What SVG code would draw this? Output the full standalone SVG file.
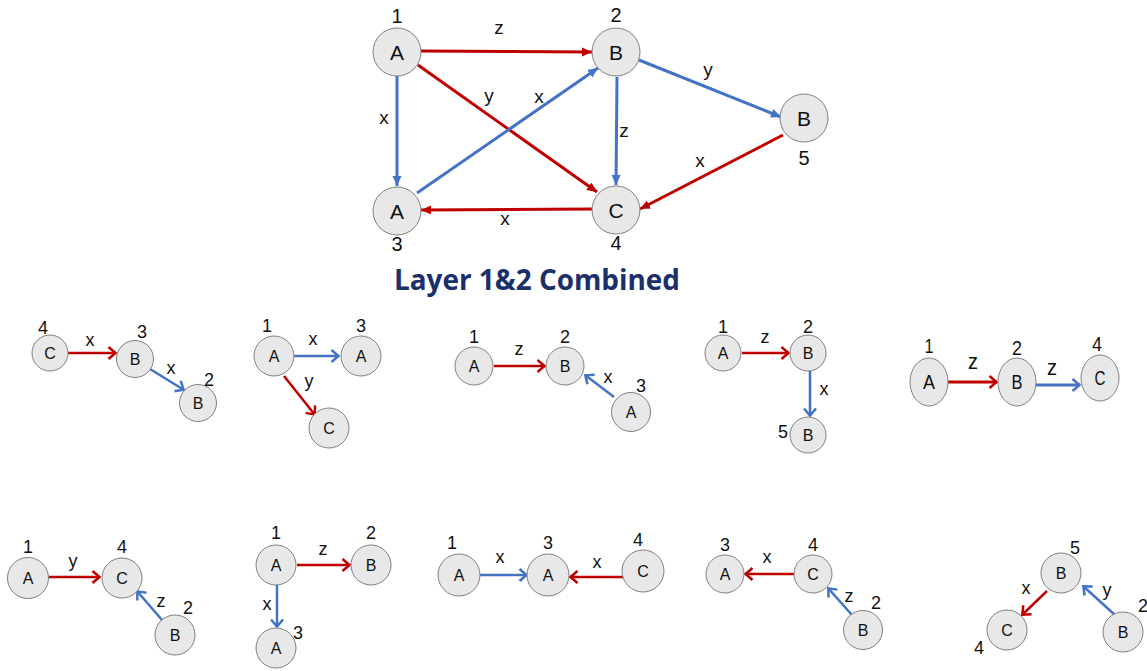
<svg xmlns="http://www.w3.org/2000/svg" width="1147" height="671" viewBox="0 0 1147 671">
<style>
.nd{fill:#e8e8e8;stroke:#808080;stroke-width:1}
.t{font-family:"Liberation Sans",Arial,sans-serif;fill:#111;text-anchor:middle}
.L{font-size:21px}
.N{font-size:20px}
.E{font-size:19px}
.l{font-size:16px}
.n{font-size:18px}
.e{font-size:18px}
.r{stroke:#C00000;fill:none}
.b{stroke:#4472C4;fill:none}
.w3{stroke-width:3}
.w2{stroke-width:2.5}
.title{font-family:"Open Sans","Liberation Sans",sans-serif;font-weight:bold;font-size:29px;fill:#1B2F6B;text-anchor:middle}
</style>
<defs>
<marker id="tr" markerUnits="userSpaceOnUse" markerWidth="11" markerHeight="10" refX="10" refY="4.5" orient="auto"><path d="M0,0 L10,4.5 L0,9 z" fill="#C00000"/></marker>
<marker id="tb" markerUnits="userSpaceOnUse" markerWidth="11" markerHeight="10" refX="10" refY="4.5" orient="auto"><path d="M0,0 L10,4.5 L0,9 z" fill="#4472C4"/></marker>
<marker id="cr" markerUnits="userSpaceOnUse" markerWidth="12" markerHeight="16" refX="9" refY="7" orient="auto"><path d="M1.5,1 L8.5,7 L1.5,13" fill="none" stroke="#C00000" stroke-width="2.5"/></marker>
<marker id="cb" markerUnits="userSpaceOnUse" markerWidth="12" markerHeight="16" refX="9" refY="7" orient="auto"><path d="M1.5,1 L8.5,7 L1.5,13" fill="none" stroke="#4472C4" stroke-width="2.5"/></marker>
</defs>

<!-- Main combined graph connectors -->
<g id="connectors-main">
<line class="r w3" x1="421" y1="51" x2="592" y2="52" marker-end="url(#tr)"/>
<line class="r w3" x1="418" y1="65" x2="597" y2="192" marker-end="url(#tr)"/>
<line class="b w3" x1="397" y1="76" x2="397" y2="186" marker-end="url(#tb)"/>
<line class="b w3" x1="417" y1="193" x2="598" y2="68" marker-end="url(#tb)"/>
<line class="b w3" x1="617" y1="77" x2="616" y2="185" marker-end="url(#tb)"/>
<line class="b w3" x1="639" y1="60" x2="781" y2="117" marker-end="url(#tb)"/>
<line class="r w3" x1="783" y1="135" x2="640" y2="209" marker-end="url(#tr)"/>
<line class="r w3" x1="592" y1="209" x2="421" y2="210" marker-end="url(#tr)"/>
<text class="t E" x="499" y="34">z</text>
<text class="t E" x="489" y="102">y</text>
<text class="t E" x="384" y="124">x</text>
<text class="t E" x="539" y="103">x</text>
<text class="t E" x="624" y="137">z</text>
<text class="t E" x="708" y="76">y</text>
<text class="t E" x="700" y="167">x</text>
<text class="t E" x="505" y="225">x</text>
</g>
<g id="m1"><circle class="nd" cx="397" cy="52" r="24"/><text class="t L" x="397" y="59.5">A</text><text class="t N" x="397" y="23">1</text></g>
<g id="m2"><circle class="nd" cx="616" cy="52" r="24"/><text class="t L" x="616" y="59.5">B</text><text class="t N" x="616" y="22">2</text></g>
<g id="m5"><circle class="nd" cx="804" cy="118" r="24"/><text class="t L" x="804" y="125.5">B</text><text class="t N" x="804" y="165">5</text></g>
<g id="m3"><circle class="nd" cx="397" cy="211" r="24"/><text class="t L" x="397" y="218.5">A</text><text class="t N" x="397" y="251">3</text></g>
<g id="m4"><circle class="nd" cx="616" cy="210" r="24"/><text class="t L" x="616" y="217.5">C</text><text class="t N" x="616" y="250">4</text></g>

<text id="title" class="title" x="537" y="290" textLength="286" lengthAdjust="spacingAndGlyphs">Layer 1&amp;2 Combined</text>

<!-- Sub-graph connectors -->
<g id="connectors-sub">
<line class="r w2" x1="68" y1="353" x2="116" y2="353" marker-end="url(#cr)"/>
<line class="b w2" x1="150" y1="369" x2="184" y2="390" marker-end="url(#cb)"/>
<text class="t e" x="90" y="346">x</text>
<text class="t e" x="171" y="374">x</text>
<line class="b w2" x1="294" y1="356" x2="339" y2="356" marker-end="url(#cb)"/>
<line class="r w2" x1="284" y1="376" x2="315" y2="415" marker-end="url(#cr)"/>
<text class="t e" x="313" y="344.5">x</text>
<text class="t e" x="309" y="387">y</text>
<line class="r w2" x1="494" y1="366" x2="545" y2="366" marker-end="url(#cr)"/>
<line class="b w2" x1="614" y1="397" x2="585" y2="375" marker-end="url(#cb)"/>
<text class="t e" x="519" y="354.5">z</text>
<text class="t e" x="608" y="382.5">x</text>
<line class="r w2" x1="742" y1="353" x2="789" y2="353" marker-end="url(#cr)"/>
<line class="b w2" x1="810" y1="371" x2="810" y2="416" marker-end="url(#cb)"/>
<text class="t e" x="765" y="342.5">z</text>
<text class="t e" x="824" y="394.5">x</text>
<line class="r w3" x1="948" y1="382" x2="997" y2="382" marker-end="url(#cr)"/>
<line class="b w3" x1="1036" y1="385" x2="1080" y2="385" marker-end="url(#cb)"/>
<text class="t" font-size="22" x="973" y="369" textLength="10" lengthAdjust="spacingAndGlyphs">z</text>
<text class="t" font-size="22" x="1052" y="375" textLength="10" lengthAdjust="spacingAndGlyphs">z</text>
<line class="r w2" x1="49" y1="577" x2="100" y2="577" marker-end="url(#cr)"/>
<line class="b w2" x1="162" y1="620" x2="137" y2="591" marker-end="url(#cb)"/>
<text class="t e" x="73" y="567">y</text>
<text class="t e" x="161" y="606.5">z</text>
<line class="r w2" x1="297" y1="565" x2="350" y2="565" marker-end="url(#cr)"/>
<line class="b w2" x1="277" y1="585" x2="277" y2="627" marker-end="url(#cb)"/>
<text class="t e" x="323" y="554.5">z</text>
<text class="t e" x="267" y="609.5">x</text>
<line class="b w2" x1="480" y1="575" x2="527" y2="575" marker-end="url(#cb)"/>
<line class="r w2" x1="623" y1="577" x2="570" y2="577" marker-end="url(#cr)"/>
<text class="t e" x="500" y="562.5">x</text>
<text class="t e" x="597" y="567.5">x</text>
<line class="r w2" x1="794" y1="574" x2="745" y2="574" marker-end="url(#cr)"/>
<line class="b w2" x1="852" y1="615" x2="828" y2="588" marker-end="url(#cb)"/>
<text class="t e" x="767" y="562.5">x</text>
<text class="t e" x="849" y="601.5">z</text>
<line class="r w2" x1="1047" y1="591" x2="1022" y2="615" marker-end="url(#cr)"/>
<line class="b w2" x1="1115" y1="615" x2="1083" y2="586" marker-end="url(#cb)"/>
<text class="t e" x="1026" y="593.5">x</text>
<text class="t e" x="1107" y="596">y</text>
</g>

<g id="s1-c4"><circle class="nd" cx="50" cy="353" r="18"/><text class="t l" x="50" y="359">C</text><text class="t n" x="43" y="334">4</text></g>
<g id="s1-b3"><circle class="nd" cx="135" cy="359" r="18.5"/><text class="t l" x="135" y="365">B</text><text class="t n" x="142" y="338">3</text></g>
<g id="s1-b2"><circle class="nd" cx="198" cy="403" r="18.5"/><text class="t l" x="198" y="409">B</text><text class="t n" x="209" y="386">2</text></g>
<g id="s2-a1"><circle class="nd" cx="274" cy="356" r="20"/><text class="t l" x="274" y="362">A</text><text class="t n" x="267" y="332">1</text></g>
<g id="s2-a3"><circle class="nd" cx="361" cy="356" r="20"/><text class="t l" x="361" y="362">A</text><text class="t n" x="361" y="332">3</text></g>
<g id="s2-c"><circle class="nd" cx="329" cy="428" r="20"/><text class="t l" x="329" y="434">C</text></g>
<g id="s3-a1"><circle class="nd" cx="474" cy="366" r="19"/><text class="t l" x="474" y="372">A</text><text class="t n" x="474" y="343">1</text></g>
<g id="s3-b2"><circle class="nd" cx="565" cy="366" r="19"/><text class="t l" x="565" y="372">B</text><text class="t n" x="565" y="343">2</text></g>
<g id="s3-a3"><circle class="nd" cx="631" cy="412" r="19.5"/><text class="t l" x="631" y="418">A</text><text class="t n" x="641" y="392">3</text></g>
<g id="s4-a1"><circle class="nd" cx="723" cy="353" r="18"/><text class="t l" x="723" y="359">A</text><text class="t n" x="723" y="333">1</text></g>
<g id="s4-b2"><circle class="nd" cx="808" cy="353" r="18"/><text class="t l" x="808" y="359">B</text><text class="t n" x="808" y="333">2</text></g>
<g id="s4-b5"><circle class="nd" cx="808" cy="435" r="18"/><text class="t l" x="808" y="441">B</text><text class="t n" x="783" y="438">5</text></g>
<g id="s5-a1"><ellipse class="nd" cx="929" cy="382" rx="19" ry="24"/><text class="t" font-size="20" x="929" y="389" textLength="12" lengthAdjust="spacingAndGlyphs">A</text><text class="t" font-size="21" x="929" y="352.5" textLength="9" lengthAdjust="spacingAndGlyphs">1</text></g>
<g id="s5-b2"><ellipse class="nd" cx="1017" cy="382" rx="19" ry="24"/><text class="t" font-size="20" x="1017" y="389" textLength="11" lengthAdjust="spacingAndGlyphs">B</text><text class="t" font-size="21" x="1017" y="354.5" textLength="10" lengthAdjust="spacingAndGlyphs">2</text></g>
<g id="s5-c4"><ellipse class="nd" cx="1100" cy="378" rx="19" ry="23"/><text class="t" font-size="20" x="1100" y="385" textLength="11" lengthAdjust="spacingAndGlyphs">C</text><text class="t" font-size="21" x="1097" y="350.5" textLength="10" lengthAdjust="spacingAndGlyphs">4</text></g>
<g id="s6-a1"><circle class="nd" cx="28" cy="578" r="20.5"/><text class="t l" x="28" y="584">A</text><text class="t n" x="28" y="553">1</text></g>
<g id="s6-c4"><circle class="nd" cx="122" cy="578" r="20"/><text class="t l" x="122" y="584">C</text><text class="t n" x="122" y="553">4</text></g>
<g id="s6-b2"><circle class="nd" cx="175" cy="635" r="20"/><text class="t l" x="175" y="641">B</text><text class="t n" x="188" y="614">2</text></g>
<g id="s7-a1"><circle class="nd" cx="276" cy="565" r="20"/><text class="t l" x="276" y="571">A</text><text class="t n" x="276" y="539">1</text></g>
<g id="s7-b2"><circle class="nd" cx="371" cy="565" r="20"/><text class="t l" x="371" y="571">B</text><text class="t n" x="371" y="539">2</text></g>
<g id="s7-a3"><circle class="nd" cx="276" cy="648" r="20"/><text class="t l" x="276" y="654">A</text><text class="t n" x="298" y="639">3</text></g>
<g id="s8-a1"><circle class="nd" cx="459" cy="575" r="21"/><text class="t l" x="459" y="581">A</text><text class="t n" x="452" y="549">1</text></g>
<g id="s8-a3"><circle class="nd" cx="548" cy="575" r="21"/><text class="t l" x="548" y="581">A</text><text class="t n" x="548" y="549">3</text></g>
<g id="s8-c4"><circle class="nd" cx="643" cy="571" r="21"/><text class="t l" x="643" y="577">C</text><text class="t n" x="638" y="546">4</text></g>
<g id="s9-a3"><circle class="nd" cx="725" cy="574" r="19"/><text class="t l" x="725" y="580">A</text><text class="t n" x="725" y="551">3</text></g>
<g id="s9-c4"><circle class="nd" cx="813" cy="574" r="19"/><text class="t l" x="813" y="580">C</text><text class="t n" x="813" y="551">4</text></g>
<g id="s9-b2"><circle class="nd" cx="863" cy="630" r="19.5"/><text class="t l" x="863" y="636">B</text><text class="t n" x="876" y="609">2</text></g>
<g id="s10-b5"><circle class="nd" cx="1061" cy="573" r="20"/><text class="t l" x="1061" y="579">B</text><text class="t n" x="1075" y="554">5</text></g>
<g id="s10-c4"><circle class="nd" cx="1007" cy="630" r="20"/><text class="t l" x="1007" y="636">C</text><text class="t n" x="979" y="654">4</text></g>
<g id="s10-b2"><circle class="nd" cx="1123" cy="632" r="20"/><text class="t l" x="1123" y="638">B</text><text class="t n" x="1143" y="612">2</text></g>
</svg>
